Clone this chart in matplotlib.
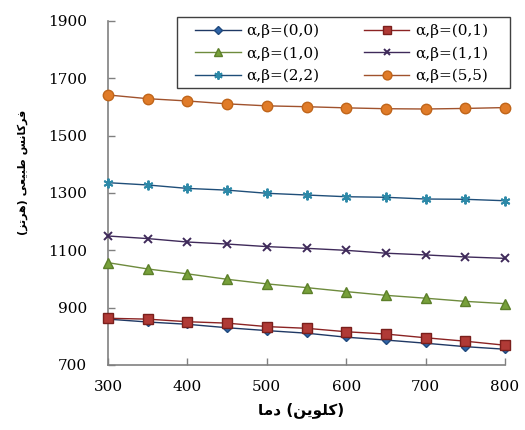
import matplotlib
matplotlib.use("Agg")
import matplotlib.pyplot as plt
from matplotlib.patches import Rectangle

temps = [300, 350, 400, 450, 500, 550, 600, 650, 700, 750, 800]
f_00 = [860, 850, 842, 830, 820, 811, 797, 787, 776, 764, 755]
f_01 = [863, 860, 851, 846, 834, 828, 816, 808, 795, 783, 769]
f_10 = [1057, 1035, 1018, 999, 983, 970, 956, 943, 933, 922, 914]
f_11 = [1150, 1141, 1129, 1122, 1113, 1107, 1100, 1090, 1084, 1077, 1072]
f_22 = [1336, 1328, 1316, 1310, 1299, 1293, 1287, 1285, 1279, 1278, 1273]
f_55 = [1642, 1629, 1621, 1611, 1604, 1601, 1597, 1594, 1593, 1595, 1598]
labels = ["α,β=(0,0)", "α,β=(0,1)", "α,β=(1,0)", "α,β=(1,1)", "α,β=(2,2)", "α,β=(5,5)"]
yticks = [700, 900, 1100, 1300, 1500, 1700, 1900]
xticks = [300, 400, 500, 600, 700, 800]

# Persian labels, pre-shaped (visual order, presentation forms)
xlabel = "\uFE8E\uFEE3\uFEA9 (\uFEE6\uFBFE\uFEEE\uFEE0\uFB90)"
ylabel = "(\uFEB0\uFE97\uFEAE\uFEEB) \uFBFD\uFECC\uFBFF\uFE92\uFEC3 \uFEB2\uFEE7\uFE8E\uFB90\uFEAE\uFED3"

fig = plt.figure(figsize=(5.25, 4.3), dpi=100)
ax = fig.add_axes([108 / 525, 1 - 365 / 430, 397 / 525, 344 / 430])

styles = [
    dict(color="#1F3864", marker="D", ms=4.5, mfc="#2E64A8", mec="#1F497D"),
    dict(color="#8B2323", marker="s", ms=6.5, mfc="#B03A36", mec="#7A1F1C"),
    dict(color="#6E8B3D", marker="^", ms=6.5, mfc="#77A03A", mec="#5C7F2A"),
    dict(color="#3F2A5A", marker="x", ms=5.5, mfc="#3F2A5A", mec="#3F2A5A", mew=1.4),
    dict(color="#1F4E79", marker=(6, 2, 0), ms=7, mfc="#2D89A8", mec="#2D89A8", mew=1.4),
    dict(color="#A0522D", marker="o", ms=7.5, mfc="#E07B28", mec="#C0651A"),
]
series = [f_00, f_01, f_10, f_11, f_22, f_55]
handles = []
for vals, lab, st in zip(series, labels, styles):
    h, = ax.plot(temps, vals, lw=1.0, label=lab, clip_on=False, zorder=3, **st)
    handles.append(h)

ax.set_xlim(300, 800)
ax.set_ylim(700, 1900)
ax.set_xticks(xticks)
ax.set_yticks(yticks)
for s in ["top", "right"]:
    ax.spines[s].set_visible(False)
for s in ["left", "bottom"]:
    ax.spines[s].set_color("#808080")
    ax.spines[s].set_linewidth(1.2)
ax.tick_params(direction="in", length=5, color="#808080", width=1, labelsize=11)
ax.tick_params(axis="y", pad=15)
ax.tick_params(axis="x", pad=11)
for t in ax.get_xticklabels() + ax.get_yticklabels():
    t.set_fontfamily("DejaVu Serif")

fig.text(301 / 525, 1 - 410 / 430, xlabel, fontsize=11, fontweight="bold",
         family="DejaVu Sans", ha="center", va="center")
fig.text(23 / 525, 1 - 172 / 430, ylabel, fontsize=8, fontweight="bold",
         family="DejaVu Sans", ha="center", va="center", rotation=90)

order = [0, 2, 4, 1, 3, 5]
leg = fig.legend([handles[i] for i in order], [labels[i] for i in order],
                 ncol=2, loc="upper left", bbox_to_anchor=(195 / 525, 1 - 24 / 430),
                 frameon=False, prop={"family": "DejaVu Serif", "size": 11},
                 handlelength=3.0, columnspacing=2.9, labelspacing=0.52,
                 borderpad=0.0, borderaxespad=0.0, handletextpad=0.35,
                 markerscale=0.85)
fig.patches.append(Rectangle((177 / 525, 1 - 88 / 430), 333 / 525, 71 / 430,
                             transform=fig.transFigure, facecolor="white",
                             edgecolor="#404040", lw=1.0, zorder=2.5))
leg.set_zorder(4)

fig.savefig("out.png", dpi=100)
